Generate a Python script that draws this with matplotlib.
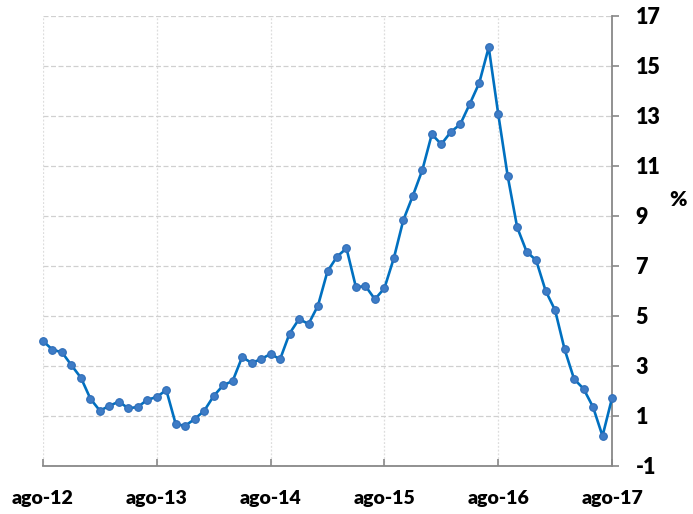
import matplotlib
matplotlib.use("Agg")
import matplotlib.pyplot as plt
import numpy as np

plt.rcParams['font.family'] = ['Lato', 'DejaVu Sans']

# Monthly values, ago-12 .. ago-17
values = [4.0, 3.65, 3.55, 3.03, 2.53, 1.69, 1.21, 1.41, 1.57, 1.31, 1.36, 1.65,
          1.76, 2.04, 0.67, 0.61, 0.88, 1.21, 1.80, 2.23, 2.40, 3.36, 3.12, 3.28,
          3.48, 3.27, 4.30, 4.88, 4.68, 5.42, 6.79, 7.37, 7.71, 6.15, 6.20, 5.67,
          6.11, 7.32, 8.84, 9.81, 10.84, 12.27, 11.87, 12.36, 12.67, 13.48, 14.32, 15.75,
          13.09, 10.60, 8.55, 7.57, 7.23, 6.01, 5.23, 3.67, 2.48, 2.09, 1.36, 0.20,
          1.71]
tick_labels = ["ago-12", "ago-13", "ago-14", "ago-15", "ago-16", "ago-17"]
y_ticks = [-1, 1, 3, 5, 7, 9, 11, 13, 15, 17]

x = np.arange(len(values))

fig = plt.figure(figsize=(6.93, 5.14), dpi=100)
ax = fig.add_axes([43/693, 1-466/514, (612-43)/693, (466-16)/514])

ax.plot(x, values, color='#0070C0', lw=1.9, marker='o', ms=5.5,
        markerfacecolor='#3E7CC6', markeredgecolor='#2E6DB8', markeredgewidth=0.8,
        zorder=3, clip_on=False)

ax.set_xlim(0, len(values) - 1)
ax.set_ylim(-1, 17)

ax.set_xticks(np.arange(0, len(values), 12))
ax.set_xticklabels(tick_labels, fontsize=14, fontweight='heavy')
ax.set_yticks(y_ticks)
ax.set_yticklabels([str(v) for v in y_ticks], fontsize=15.5, fontweight='heavy')

ax.yaxis.tick_right()
ax.tick_params(axis='y', direction='out', length=5, width=1.2, color='#888888', pad=12)
ax.tick_params(axis='x', direction='in', length=5, width=1.2, color='#888888', pad=17)

for s in ['top', 'left']:
    ax.spines[s].set_visible(False)
for s in ['bottom', 'right']:
    ax.spines[s].set_color('#888888')
    ax.spines[s].set_linewidth(1.3)

ax.grid(axis='y', linestyle=(0, (4, 2)), color='#D0D0D0', lw=0.9)
ax.grid(axis='x', linestyle=(0, (1.5, 1.5)), color='#DDDDDD', lw=0.9)
ax.set_axisbelow(True)

fig.text(678/693, 1-200/514, '%', fontsize=15, fontweight='heavy',
         ha='center', va='center')

fig.savefig('out.png', dpi=100)
